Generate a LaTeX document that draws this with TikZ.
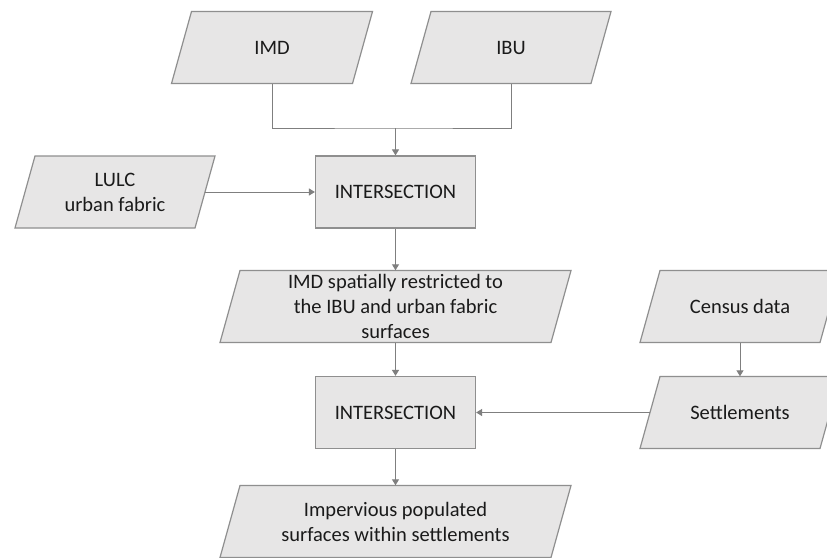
\documentclass[tikz,border=0pt]{standalone}
\usepackage{fontspec}
\setmainfont{Carlito}
\usetikzlibrary{arrows.meta}
\definecolor{boxfill}{HTML}{E7E6E6}
\definecolor{boxline}{HTML}{8F8F8F}
\definecolor{arrowc}{HTML}{7F7F7F}
\definecolor{txt}{HTML}{1A1A1A}
\tikzset{
  shapeline/.style={draw=boxline, fill=boxfill, line width=1.2pt, line join=miter},
  paratext/.style={inner sep=0pt, minimum height=72pt, align=center, text=txt,
    font=\fontsize{20.5}{25}\selectfont},
  procbox/.style={draw=boxline, fill=boxfill, line width=1.2pt, inner sep=0pt,
    minimum width=160pt, minimum height=72pt, align=center, text=txt,
    font=\fontsize{20.5}{25}\selectfont},
  conn/.style={draw=arrowc, line width=1pt},
  arr/.style={conn, -{Triangle[width=7pt,length=6pt]}}
}
\newcommand{\drawpara}[5]{%
  \draw[shapeline] ({#2-#4/2+10},{#3-36}) -- ({#2+#4/2+10},{#3-36}) --
    ({#2+#4/2-10},{#3+36}) -- ({#2-#4/2-10},{#3+36}) -- cycle;
  \node[paratext, minimum width=#4pt] (#1) at (#2,#3) {#5};}
\begin{document}
\begin{tikzpicture}[x=1pt,y=-1pt]
  \useasboundingbox (0,0) rectangle (827,557);
  \fill[white] (0,0) rectangle (827,557);
  \drawpara{imd}{272}{47.5}{181}{IMD}
  \drawpara{ibu}{511}{47.5}{180}{IBU}
  \drawpara{lulc}{115}{192}{180}{LULC\\urban fabric}
  \node[procbox] (int1) at (395.5,192) {INTERSECTION};
  \drawpara{restr}{395.5}{306.5}{331}{IMD spatially restricted to\\the IBU and urban fabric\\surfaces}
  \drawpara{census}{740}{306.5}{180}{Census data}
  \node[procbox] (int2) at (395.5,412.5) {INTERSECTION};
  \drawpara{settl}{740}{412.5}{180}{Settlements}
  \drawpara{imperv}{395.5}{521.5}{331}{Impervious populated\\surfaces within settlements}
  \coordinate (j) at (395.5,128);
  \draw[conn] (imd.south) |- (j) -| (ibu.south);
  \draw[arr] (j) -- (int1.north);
  \draw[arr] (lulc.east) -- (int1.west);
  \draw[arr] (int1.south) -- (restr.north);
  \draw[arr] (restr.south) -- (int2.north);
  \draw[arr] (census.south) -- (settl.north);
  \draw[arr] (settl.west) -- (int2.east);
  \draw[arr] (int2.south) -- (imperv.north);
\end{tikzpicture}
\end{document}
